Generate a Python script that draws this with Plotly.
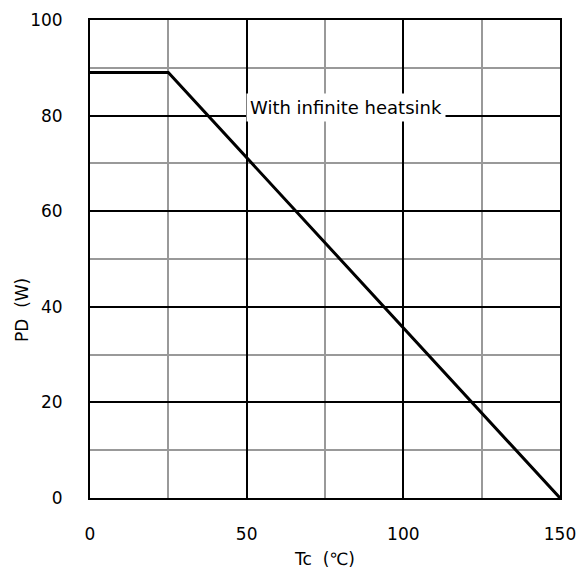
import plotly.graph_objects as go

# Data
tc = [0, 25, 150]
pd_w = [89, 89, 0]
x_ticks = [0, 50, 100, 150]
y_ticks = [0, 20, 40, 60, 80, 100]
label_text = "With infinite heatsink"
label_x = 81.7
label_y = 81.8

FONT = "DejaVu Sans"

fig = go.Figure()
fig.add_trace(go.Scatter(x=tc, y=pd_w, mode="lines",
                         line=dict(color="black", width=3), hoverinfo="skip",
                         showlegend=False))

fig.add_annotation(x=label_x, y=label_y, text=label_text, showarrow=False,
                   bgcolor="white", borderpad=3,
                   font=dict(family=FONT, size=18, color="black"))

# y-axis title placed as rotated text
fig.add_annotation(xref="paper", yref="paper", x=-0.145, y=0.393,
                   xanchor="center", yanchor="middle",
                   text="PD  (W)", textangle=-90, showarrow=False,
                   font=dict(family=FONT, size=17, color="black"))

fig.update_layout(
    width=583, height=583,
    margin=dict(l=90, r=23, t=20, b=85),
    paper_bgcolor="white", plot_bgcolor="white",
    font=dict(family=FONT, size=17, color="black"),
    xaxis=dict(range=[0, 150], tickvals=x_ticks, showgrid=True, automargin=False,
               gridcolor="black", gridwidth=1.5,
               minor=dict(dtick=25, showgrid=True, gridcolor="#999999", gridwidth=1.5),
               showline=True, linecolor="black", linewidth=2, mirror=True,
               zeroline=False, ticks="", ticklabelstandoff=20,
               title=dict(text="Tc  (\u2103)", standoff=10, font=dict(size=17))),
    yaxis=dict(range=[0, 100], tickvals=y_ticks, showgrid=True, automargin=False,
               gridcolor="black", gridwidth=1.5,
               minor=dict(dtick=10, showgrid=True, gridcolor="#999999", gridwidth=1.5),
               showline=True, linecolor="black", linewidth=2, mirror=True,
               zeroline=False, ticks="", ticklabelstandoff=22),
)

fig.write_html("out.html")
